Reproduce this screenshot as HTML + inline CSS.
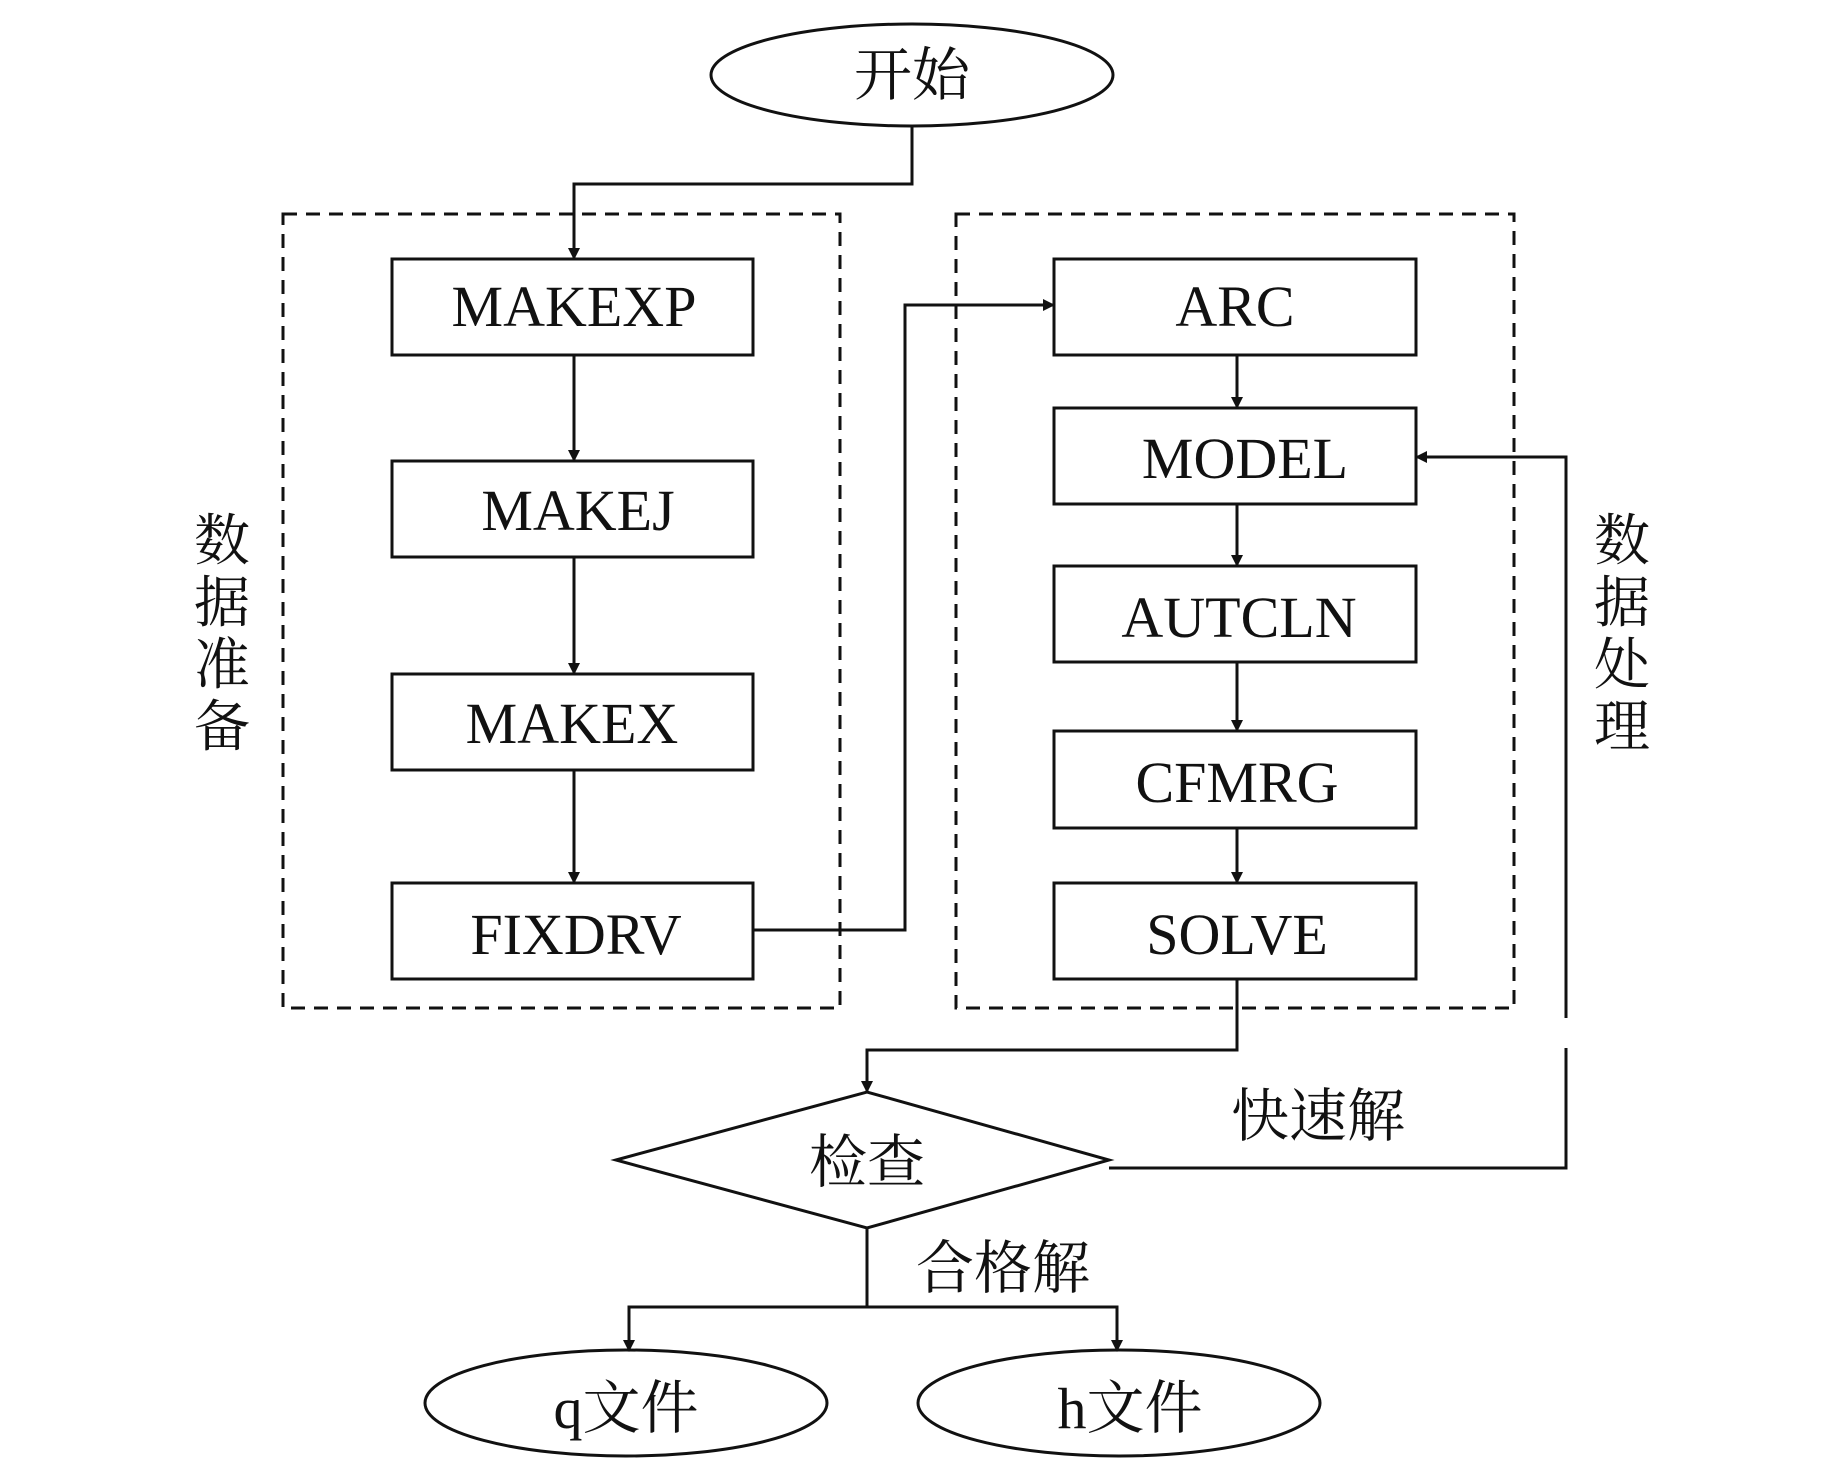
<!DOCTYPE html>
<html><head><meta charset="utf-8"><style>
body{margin:0;background:#fff}
text{font-family:"Liberation Serif","Noto Serif CJK SC",serif;fill:#111}
</style></head><body>
<svg width="1843" height="1465" viewBox="0 0 1843 1465" xmlns="http://www.w3.org/2000/svg">
<defs><marker id="a" markerWidth="12" markerHeight="12" refX="11" refY="6" orient="auto" markerUnits="userSpaceOnUse"><path d="M0,0 L12,6 L0,12 Z" fill="#111"/></marker></defs>
<g fill="none" stroke="#111" stroke-width="3">
<ellipse cx="912" cy="75" rx="201" ry="51"/>
<rect x="283" y="214" width="557" height="794" stroke-dasharray="14,9"/>
<rect x="956" y="214" width="558" height="794" stroke-dasharray="14,9"/>
<rect x="392" y="259" width="361" height="96"/>
<rect x="392" y="461" width="361" height="96"/>
<rect x="392" y="674" width="361" height="96"/>
<rect x="392" y="883" width="361" height="96"/>
<rect x="1054" y="259" width="362" height="96"/>
<rect x="1054" y="408" width="362" height="96"/>
<rect x="1054" y="566" width="362" height="96"/>
<rect x="1054" y="731" width="362" height="97"/>
<rect x="1054" y="883" width="362" height="96"/>
<path d="M616,1160 L867,1092 L1109,1160 L867,1228 Z"/>
<ellipse cx="626" cy="1403" rx="201" ry="53"/>
<ellipse cx="1119" cy="1403" rx="201" ry="53"/>
<path d="M912,126 V184 H574 V259" marker-end="url(#a)"/>
<path d="M574,355 V461" marker-end="url(#a)"/>
<path d="M574,557 V674" marker-end="url(#a)"/>
<path d="M574,770 V883" marker-end="url(#a)"/>
<path d="M753,930 H905 V305 H1054" marker-end="url(#a)"/>
<path d="M1237,355 V408" marker-end="url(#a)"/>
<path d="M1237,504 V566" marker-end="url(#a)"/>
<path d="M1237,662 V731" marker-end="url(#a)"/>
<path d="M1237,828 V883" marker-end="url(#a)"/>
<path d="M1237,979 V1050 H867 V1092" marker-end="url(#a)"/>
<path d="M1109,1168 H1566 V1048"/>
<path d="M1566,1018 V457 H1416" marker-end="url(#a)"/>
<path d="M867,1228 V1307"/>
<path d="M629,1351 V1307 H1117 V1351" marker-end="url(#a)"/>
<path d="M629,1307 V1351" marker-end="url(#a)"/>
</g>
<g font-size="58" text-anchor="middle">
<text x="912" y="95">开始</text>
<text x="574" y="326">MAKEXP</text>
<text x="578" y="530">MAKEJ</text>
<text x="572" y="743">MAKEX</text>
<text x="576" y="954">FIXDRV</text>
<text x="1235" y="326">ARC</text>
<text x="1245" y="478">MODEL</text>
<text x="1239" y="637">AUTCLN</text>
<text x="1237" y="802">CFMRG</text>
<text x="1237" y="954">SOLVE</text>
<text x="867" y="1182">检查</text>
<text x="1318" y="1136">快速解</text>
<text x="1003" y="1288">合格解</text>
<text x="626" y="1428">q文件</text>
<text x="1130" y="1428">h文件</text>
</g>
<g font-size="56" text-anchor="middle">
<text x="222" y="560">数</text><text x="222" y="622">据</text><text x="222" y="684">准</text><text x="222" y="746">备</text>
<text x="1622" y="560">数</text><text x="1622" y="622">据</text><text x="1622" y="684">处</text><text x="1622" y="746">理</text>
</g>
</svg>
</body></html>
